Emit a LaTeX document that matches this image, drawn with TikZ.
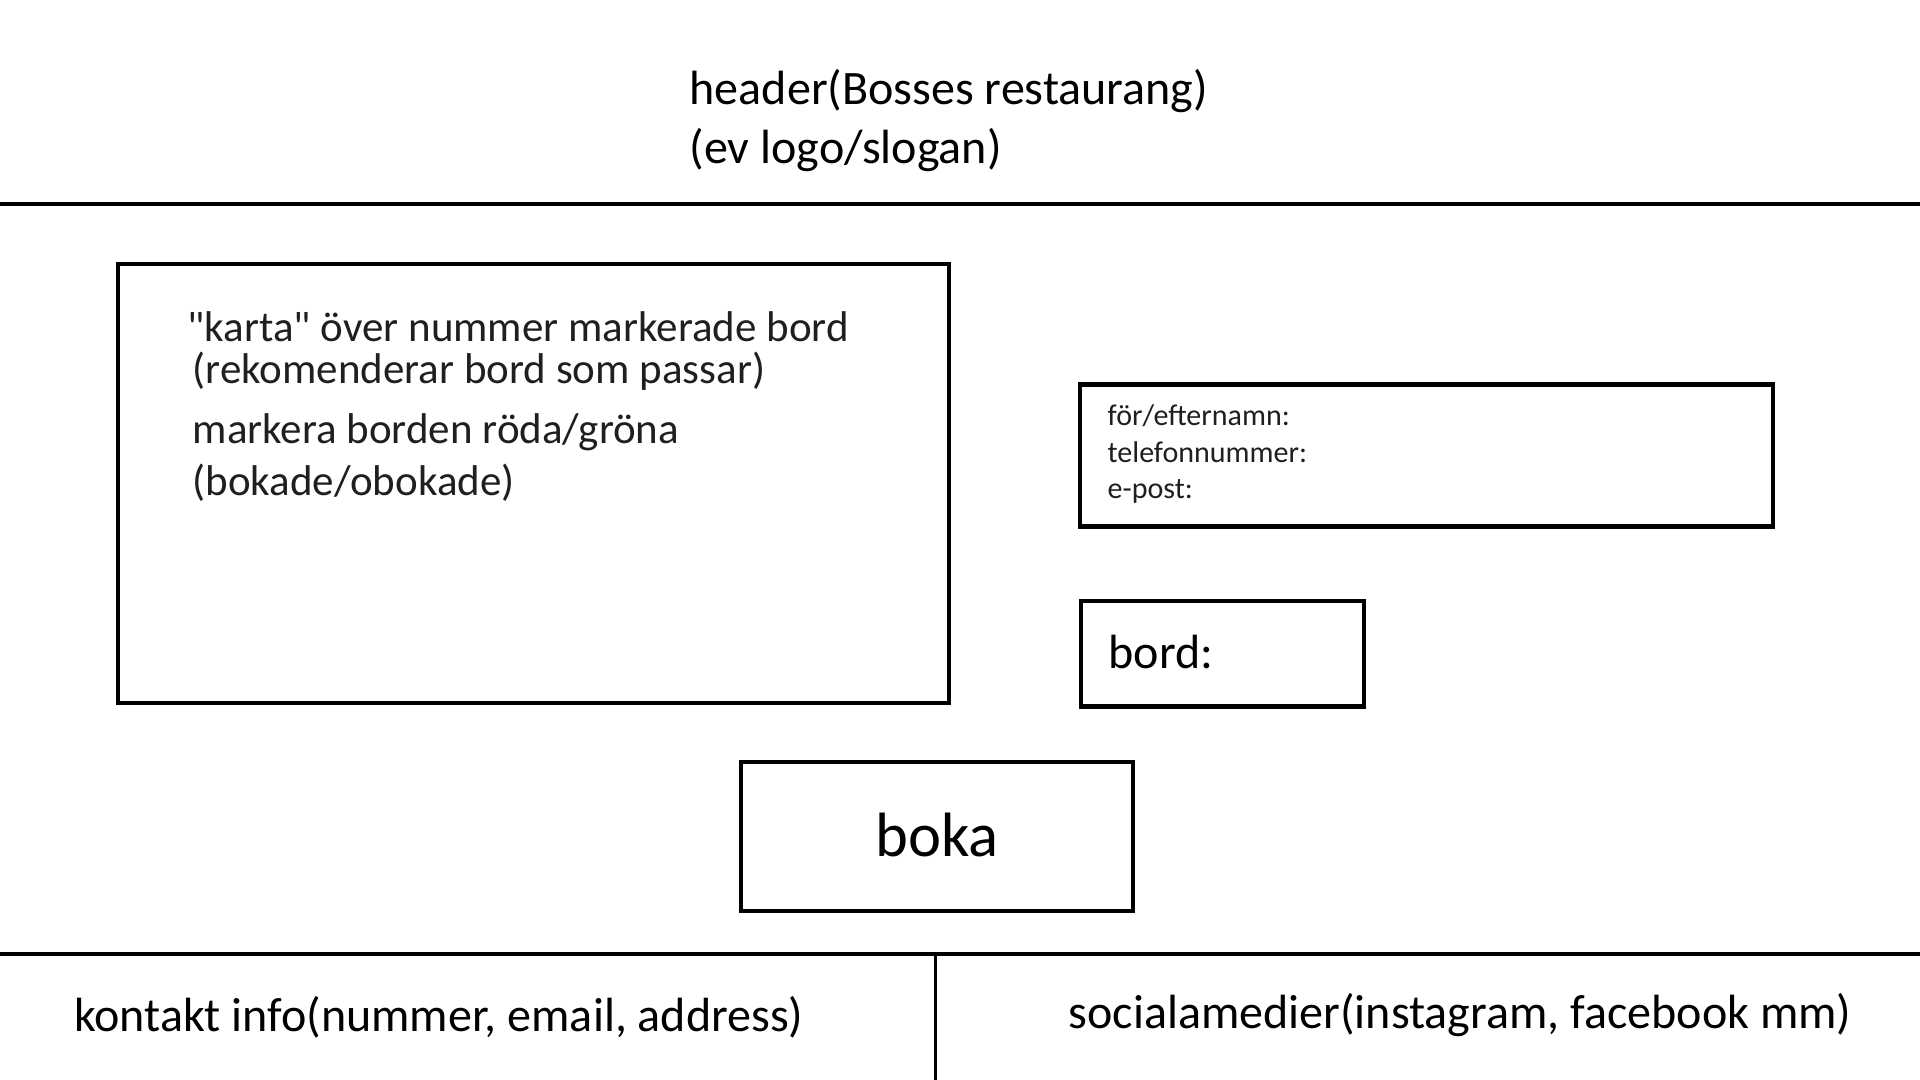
\documentclass[tikz,border=0pt]{standalone}
\usepackage{fontspec}
\setmainfont{Carlito}
\usetikzlibrary{positioning}
\newcommand{\sq}{\XeTeXglyph\XeTeXcharglyph34\relax}
\begin{document}
\begin{tikzpicture}[x=0.01cm,y=-0.01cm,
  rule/.style={line width=1.2pt},
  bigtxt/.style={inner sep=0pt,anchor=base west,font=\fontsize{13.66}{16}\selectfont},
  maptxt/.style={inner sep=0pt,anchor=base west,text=black!88,font=\fontsize{12.23}{14}\selectfont},
  formtxt/.style={inner sep=0pt,anchor=base west,text=black!88,font=\fontsize{8.54}{10}\selectfont},
  boxstyle/.style={draw=black,line width=1.2pt,inner sep=0pt}]
\fill[white] (0,0) rectangle (1920,1080);
\useasboundingbox (0,0) rectangle (1920,1080);
% header
\node[bigtxt] (h1) at (689,105) {header(Bosses restaurang)};
\node[bigtxt] (h2) at (689,164) {(ev logo/slogan)};
\coordinate (hl) at (0,204);
\coordinate (hr) at (1920,204);
\draw[rule] (hl) -- (hr);
% map box
\node[boxstyle,minimum width=831*0.2845pt,minimum height=439*0.2845pt] (map) at (533.5,483.5) {};
\node[maptxt] (m1) at (187,342) {\sq karta\sq{} över nummer markerade bord};
\node[maptxt] (m2) at (192,384) {(rekomenderar bord som passar)};
\node[maptxt] (m3) at (192,444) {markera borden röda/gröna};
\node[maptxt] (m4) at (192,496) {(bokade/obokade)};
% form box
\node[boxstyle,minimum width=693*0.2845pt,minimum height=142*0.2845pt] (form) at (1426.5,455.5) {};
\node[formtxt] (f1) at (1107,426) {för/efternamn:};
\node[formtxt] (f2) at (1107,463) {telefonnummer:};
\node[formtxt] (f3) at (1107,499) {e-post:};
% bord box
\node[boxstyle,minimum width=283*0.2845pt,minimum height=105.5*0.2845pt] (bordbox) at (1222.5,653.75) {};
\node[bigtxt] (bord) at (1108,669) {bord:};
% boka
\node[boxstyle,minimum width=392*0.2845pt,minimum height=149*0.2845pt] (bokabox) at (937,836.5) {};
\node[inner sep=0pt,anchor=base,font=\fontsize{17.8}{20}\selectfont] (boka) at (937,857) {boka};
% footer
\coordinate (fl) at (0,954);
\coordinate (fr) at (1920,954);
\coordinate (vt) at (935.5,954);
\coordinate (vb) at (935.5,1080);
\draw[rule] (fl) -- (fr);
\draw[line width=0.75pt] (vt) -- (vb);
\node[bigtxt] (contact) at (73.5,1032) {kontakt info(nummer, email, address)};
\node[bigtxt] (social) at (1068,1029) {socialamedier(instagram, facebook mm)};
\end{tikzpicture}
\end{document}
